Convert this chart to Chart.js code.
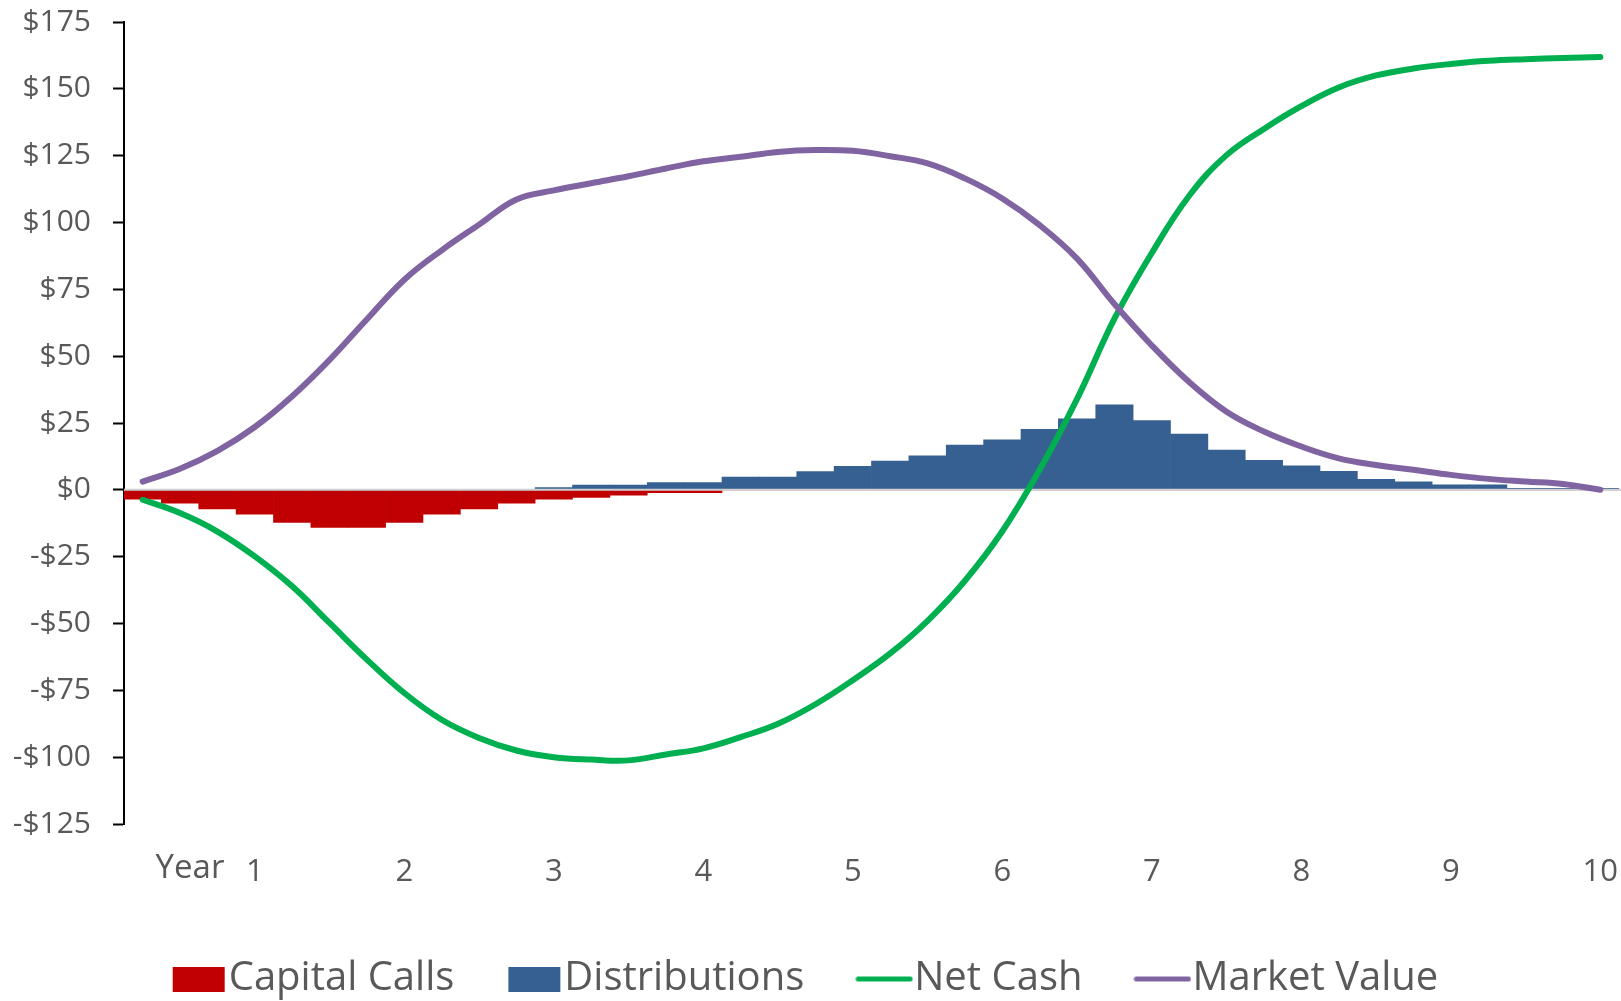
<!DOCTYPE html>
<html>
<head>
<meta charset="utf-8">
<script src="https://cdn.jsdelivr.net/npm/chart.js@4/dist/chart.umd.min.js"></script>
<style>
  html, body { margin: 0; padding: 0; background: #ffffff; }
  #wrap { width: 1621px; height: 1001px; }
</style>
</head>
<body>
<div id="wrap"><canvas id="cashflow" width="1621" height="1001"></canvas></div>
<script>
// Fund life in years; each year is split into four quarters.
const yearLabels = ['1', '2', '3', '4', '5', '6', '7', '8', '9', '10'];
const quarterNames = ['Q1', 'Q2', 'Q3', 'Q4'];
const categories = yearLabels.flatMap(y => quarterNames.map(q => 'Year ' + y + ' ' + q));
const axisTitle = 'Year';

// Quarterly cash flows ($)
const capitalCalls = [
  -3.5, -5.0, -7.1, -9.1, -12.2, -14.1, -14.1, -12.2, -9.1, -7.1,
  -5.0, -3.5, -2.8, -2.0, -1.1, -1.1, 0, 0, 0, 0,
  0, 0, 0, 0, 0, 0, 0, 0, 0, 0,
  0, 0, 0, 0, 0, 0, 0, 0, 0, 0
];
const distributions = [
  0, 0, 0, 0, 0, 0, 0, 0, 0, 0,
  0, 0.8, 1.8, 1.8, 2.7, 2.7, 4.8, 4.8, 6.8, 8.8,
  10.8, 12.7, 16.7, 18.7, 22.6, 26.6, 31.8, 25.9, 20.9, 14.9,
  11.0, 9.0, 6.9, 3.9, 3.0, 1.9, 1.9, 0.6, 0.6, 0.6
];
// Cumulative net cash and remaining market value ($)
const netCash = [
  -3.7, -8.7, -15.6, -24.9, -36.1, -49.8, -63.5, -76.0, -86.0, -92.8,
  -97.5, -100.0, -100.9, -101.2, -99.0, -96.7, -92.5, -87.5, -80.2, -71.2,
  -61.2, -49.0, -34.0, -15.5, 7.5, 34.0, 64.0, 88.6, 110.0, 125.2,
  135.0, 143.5, 150.5, 155.0, 157.6, 159.3, 160.5, 161.1, 161.5, 161.9
];
const marketValue = [
  3.1, 7.9, 14.6, 23.5, 35.0, 48.6, 63.8, 78.6, 89.6, 99.2,
  108.6, 112.0, 114.7, 117.3, 120.2, 122.9, 124.6, 126.4, 127.1, 126.8,
  124.8, 122.1, 116.5, 109.0, 99.0, 86.5, 69.5, 54.0, 40.3, 29.2,
  21.8, 16.2, 11.8, 9.3, 7.5, 5.6, 4.1, 3.1, 2.2, 0
];

const textGrey = '#595959';
const fontFamily = '"Open Sans", "Noto Sans", sans-serif';

// Legend swatches: a filled block for bar series, a short round-capped stroke for line series.
function legendSwatch(color, kind) {
  const c = document.createElement('canvas');
  c.width = 58;
  c.height = 25;
  const g = c.getContext('2d');
  if (kind === 'bar') {
    g.fillStyle = color;
    g.fillRect(3, 0, 52, 25);
  } else {
    g.strokeStyle = color;
    g.lineWidth = 5;
    g.lineCap = 'round';
    g.beginPath();
    g.moveTo(3, 12.5);
    g.lineTo(55, 12.5);
    g.stroke();
  }
  return c;
}

// Light rule along $0, drawn over the bars but beneath the lines.
const zeroRule = {
  id: 'zeroRule',
  beforeDatasetDraw(chart, args) {
    if (args.index !== 2) return;
    const { ctx, chartArea, scales } = chart;
    const y = scales.y.getPixelForValue(0);
    ctx.save();
    ctx.strokeStyle = '#d0d0d0';
    ctx.lineWidth = 2;
    ctx.beginPath();
    ctx.moveTo(chartArea.left, y);
    ctx.lineTo(chart.width, y);
    ctx.stroke();
    ctx.restore();
  }
};

// "Year" caption at the start of the category axis.
const yearCaption = {
  id: 'yearCaption',
  afterDraw(chart) {
    const { ctx, chartArea } = chart;
    ctx.save();
    ctx.font = '33px ' + fontFamily;
    ctx.fillStyle = textGrey;
    ctx.textAlign = 'center';
    ctx.textBaseline = 'middle';
    ctx.fillText(axisTitle, chartArea.left + 66, chartArea.bottom + 45);
    ctx.restore();
  }
};

const barStyle = { grouped: false, barPercentage: 1, categoryPercentage: 1, borderWidth: 0 };
const lineStyle = { borderWidth: 6, pointRadius: 0, pointHoverRadius: 0, tension: 0.4, borderCapStyle: 'round', borderJoinStyle: 'round', fill: false };

new Chart(document.getElementById('cashflow'), {
  data: {
    labels: categories,
    datasets: [
      Object.assign({ type: 'bar', label: 'Capital Calls', data: capitalCalls, backgroundColor: '#c00000', order: 3 }, barStyle),
      Object.assign({ type: 'bar', label: 'Distributions', data: distributions, backgroundColor: '#376092', order: 2 }, barStyle),
      Object.assign({ type: 'line', label: 'Net Cash', data: netCash, borderColor: '#00b050', backgroundColor: '#00b050', order: 1 }, lineStyle),
      Object.assign({ type: 'line', label: 'Market Value', data: marketValue, borderColor: '#8064a2', backgroundColor: '#8064a2', order: 0 }, lineStyle)
    ]
  },
  options: {
    responsive: false,
    animation: false,
    devicePixelRatio: 1,
    layout: { padding: { top: 22, right: 2, bottom: -8, left: 8 } },
    scales: {
      x: {
        type: 'category',
        offset: true,
        // invisible tick marks only push the year labels down
        grid: { display: true, drawOnChartArea: false, drawTicks: true, tickLength: 30, tickColor: 'rgba(0,0,0,0)' },
        border: { display: false },
        ticks: {
          autoSkip: false,
          maxRotation: 0,
          minRotation: 0,
          padding: 0,
          color: textGrey,
          font: { family: fontFamily, size: 31 },
          callback: (value, index) => (index % 4 === 3 ? yearLabels[(index - 3) / 4] : '')
        },
        afterFit: scale => { scale.height = 65; }
      },
      y: {
        min: -125,
        max: 175,
        // tick line spans the label gap; the dash pattern keeps only its last 10px visible
        grid: { drawOnChartArea: false, drawTicks: true, tickLength: 29, tickColor: '#000000', tickWidth: 2, tickBorderDash: [0, 18, 20, 200] },
        border: { display: true, color: '#000000', width: 2 },
        ticks: {
          stepSize: 25,
          padding: 4,
          color: textGrey,
          font: { family: fontFamily, size: 30 },
          callback: v => (v < 0 ? '-$' + Math.abs(v) : '$' + v)
        },
        afterFit: scale => { scale.width = 116; }
      }
    },
    plugins: {
      tooltip: { enabled: false },
      legend: {
        position: 'bottom',
        align: 'center',
        labels: {
          usePointStyle: true,
          pointStyleWidth: 20,
          boxHeight: 25,
          padding: 70,
          color: textGrey,
          font: { family: fontFamily, size: 40 },
          sort: (a, b) => a.datasetIndex - b.datasetIndex,
          generateLabels(chart) {
            const items = Chart.defaults.plugins.legend.labels.generateLabels(chart);
            items.forEach(it => {
              const ds = chart.data.datasets[it.datasetIndex];
              const color = ds.type === 'line' ? ds.borderColor : ds.backgroundColor;
              it.pointStyle = legendSwatch(color, ds.type);
              it.lineWidth = 0;
            });
            return items;
          }
        }
      }
    }
  },
  plugins: [zeroRule, yearCaption]
});
</script>
</body>
</html>
